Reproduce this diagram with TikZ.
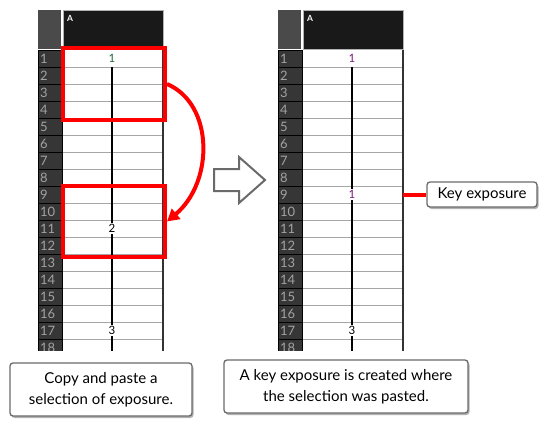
\documentclass[tikz,border=0pt]{standalone}
\usepackage{fontspec}
\setmainfont{Lato}
\usetikzlibrary{arrows.meta,shadows}

\definecolor{selred}{HTML}{FF0000}
\definecolor{boxgray}{HTML}{6A6A6A}
\definecolor{numgray}{HTML}{A3A3A3}
\definecolor{colgray}{HTML}{363636}
\definecolor{cornergray}{HTML}{4A4A4A}
\definecolor{keyviolet}{HTML}{7B1B7B}
\definecolor{keygreen}{HTML}{1F6A3A}

% one exposure column: #1 = left edge of the cells, #2 = name prefix
\newcommand{\xcolumn}[2]{%
    \fill[cornergray] (#1-24,10) rectangle (#1-1,49);
    \filldraw[fill=black!90, draw=gray!60] (#1+1,10.5) rectangle (#1+101,49.5);
    \node[headtxt] (#2-head) at (#1+5,15) {A};
    \fill[white] (#1,50) rectangle (#1+101,356);
    \foreach \r in {1,...,18} {
        \filldraw[fill=colgray, draw=black] (#1-24,{50+17*(\r-1)}) rectangle (#1,{50+17*\r});
        \node[rownum] (#2-r\r) at (#1-22,{58.5+17*(\r-1)}) {\r};
        \draw[gray!70] (#1,{50+17*\r}) -- (#1+101,{50+17*\r});
    }
    \draw[line width=2pt] (#1+50,67) -- (#1+50,356);
    \draw[line width=2pt, black!80] (#1+101,50) -- (#1+101,356);
}

\begin{document}
\begin{tikzpicture}[x=1pt, y=-1pt, line join=miter]
    \tikzstyle{headtxt}=[anchor=north west, inner sep=0pt, text=white, font=\fontsize{8.5}{8.5}\selectfont\bfseries]
    \tikzstyle{rownum}=[anchor=west, inner sep=0pt, text=numgray, font=\fontsize{13}{13}\selectfont]
    \tikzstyle{cellnum}=[fill=white, inner xsep=1pt, inner ysep=1.5pt, font=\fontsize{11.5}{11.5}\selectfont]
    \tikzstyle{selbox}=[draw=selred, line width=4pt, minimum width=102, minimum height=72]
    \tikzstyle{callout}=[draw=boxgray, line width=1.3pt, rounded corners=3pt, fill=white, align=center,
                         text=black, font=\fontsize{15}{21}\selectfont,
                         drop shadow={shadow xshift=1.5pt, shadow yshift=-2pt, fill=black!30, opacity=1}]

    \useasboundingbox[fill=white] (0,0) rectangle (551,431);

    \begin{scope}
        \clip (0,0) rectangle (551,350);
        \xcolumn{62}{L}
        \xcolumn{302}{R}
        \node[cellnum, text=keygreen] (L-c1) at (112,58.5) {1};
        \node[cellnum] (L-c11) at (112,228.5) {2};
        \node[cellnum] (L-c17) at (112,330.5) {3};
        \node[cellnum, text=keyviolet] (R-c1) at (352,58.5) {1};
        \node[cellnum, text=keyviolet] (R-c9) at (352,194.5) {1};
        \node[cellnum] (R-c17) at (352,330.5) {3};
    \end{scope}

    % selections
    \node[selbox] (sel1) at (114,84) {};
    \node[selbox, minimum height=71] (sel2) at (114,221.5) {};
    \draw[selred, line width=4pt, -{Triangle[length=12pt, width=13pt]}]
        (sel1.east) .. controls (214,104) and (214,182) .. (sel2.east);

    % paste arrow
    \draw[boxgray, line width=2pt] (214,169) -- (239,169) -- (239,157) -- (265,180)
        -- (239,203) -- (239,191) -- (214,191) -- cycle;

    % labels
    \node[callout, minimum width=110, minimum height=25, inner sep=0pt] (keylbl) at (482,194.5) {Key exposure};
    \coordinate (keyedge) at (403,194.5);
    \draw[selred, line width=4pt] (keyedge) -- (keylbl.west);

    \node[callout, minimum width=182, minimum height=53, inner sep=0pt] (copylbl) at (101,389.5)
        {Copy and paste a\\selection of exposure.};
    \node[callout, minimum width=244, minimum height=53, inner sep=0pt] (keyinfo) at (346,386.5)
        {A key exposure is created where\\the selection was pasted.};
\end{tikzpicture}
\end{document}
